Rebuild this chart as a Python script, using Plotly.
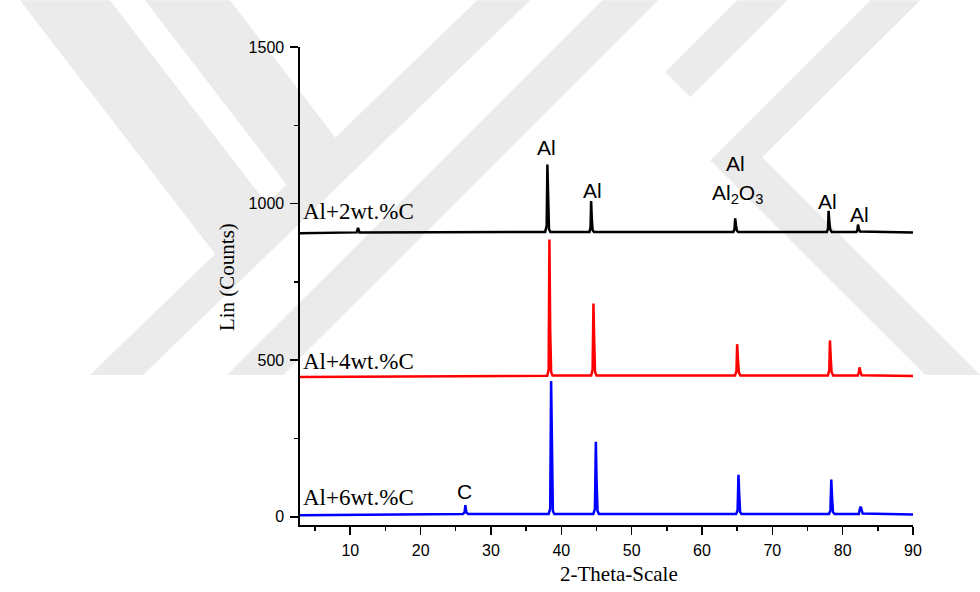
import plotly.graph_objects as go

# ---------------- data ----------------
black_x = [2.85, 10.9, 11.1, 11.3, 37.7, 37.92, 38.02, 38.12, 38.25, 38.45,
           44.0, 44.16, 44.24, 44.34, 44.45, 44.65, 64.45, 64.62, 64.72, 64.84,
           64.95, 65.15, 77.75, 77.92, 78.0, 78.1, 78.22, 78.45, 81.95, 82.1,
           82.18, 82.3, 82.45, 90.0]
black_y = [905, 908, 922, 908, 909, 930, 1125, 960, 918, 909,
           909, 925, 1008, 950, 915, 909, 909, 918, 953, 930,
           914, 909, 909, 920, 977, 945, 918, 909, 909, 916,
           933, 920, 911, 908]

red_x = [2.85, 38.0, 38.2, 38.31, 38.42, 38.55, 38.75, 44.25, 44.45, 44.57,
         44.68, 44.8, 45.0, 64.7, 64.9, 65.0, 65.12, 65.25, 65.45, 77.9,
         78.1, 78.19, 78.3, 78.42, 78.65, 82.15, 82.3, 82.4, 82.52, 82.7, 90.0]
red_y = [446, 450, 470, 885, 600, 462, 451, 451, 470, 681,
         560, 462, 451, 451, 465, 551, 500, 460, 451, 451,
         468, 563, 510, 462, 451, 451, 462, 477, 463, 452, 449]

blue_x = [2.85, 26.0, 26.25, 26.36, 26.5, 26.75, 38.2, 38.42, 38.55, 38.66,
          38.8, 39.0, 44.55, 44.78, 44.91, 45.02, 45.15, 45.35, 64.85, 65.06,
          65.19, 65.3, 65.42, 65.62, 78.05, 78.26, 78.38, 78.5, 78.62, 78.85,
          82.3, 82.45, 82.55, 82.7, 82.85, 90.0]
blue_y = [5, 9, 14, 37, 14, 9, 9, 25, 433, 150,
          18, 9, 9, 25, 239, 110, 18, 9, 9, 20,
          134, 70, 15, 9, 9, 20, 119, 60, 15, 9,
          9, 25, 32, 22, 10, 7]

series_names = ["Al+2wt.%C", "Al+4wt.%C", "Al+6wt.%C"]
series_label_y = [976, 497, 61]

peak_labels = ["Al", "Al", "Al", "Al<sub>2</sub>O<sub>3</sub>", "Al", "Al", "C"]
peak_label_x = [37.9, 44.4, 64.7, 65.0, 77.8, 82.4, 26.3]
peak_label_y = [1178, 1041, 1127, 1031, 1006, 966, 79]

x_ticks = [10, 20, 30, 40, 50, 60, 70, 80, 90]
y_ticks = [0, 500, 1000, 1500]

# ---------------- layout geometry ----------------
W, H = 980, 592
L, R, T, B = 300, 912.7, 46.7, 525.0

def px2paper(px, py):
    return (px - L) / (R - L), (B - py) / (B - T)

# background watermark (light grey chevron bands), pixel polygons
watermark = [
    [(20, 0), (110, 0), (288, 231), (236, 281)],
    [(145, 0), (230, 0), (355, 163), (307, 211)],
    [(90, 375), (143, 375), (530, 0), (477, 0)],
    [(227, 375), (283, 375), (658, 0), (602, 0)],
    [(870, 0), (920, 0), (762, 157), (980, 375), (925, 375), (710, 160)],
    [(737, 0), (787, 0), (690, 97), (665, 72)],
]

shapes = []
for poly in watermark:
    pts = [px2paper(x, y) for x, y in poly]
    path = "M " + " L ".join(f"{a:.4f},{b:.4f}" for a, b in pts) + " Z"
    shapes.append(dict(type="path", xref="paper", yref="paper", path=path,
                       fillcolor="#ebebeb", line=dict(width=0), layer="below"))

fig = go.Figure()
for xs, ys, col in [(black_x, black_y, "#000000"), (red_x, red_y, "#ff0000"),
                    (blue_x, blue_y, "#0000ff")]:
    fig.add_trace(go.Scatter(x=xs, y=ys, mode="lines",
                             line=dict(color=col, width=2.5),
                             showlegend=False, hoverinfo="skip"))

SERIF = "Liberation Serif, Times New Roman, serif"
SANS = "Liberation Sans, Arial, sans-serif"

ann = []
for name, yv in zip(series_names, series_label_y):
    ann.append(dict(x=3.0, y=yv, xref="x", yref="y", text=name, showarrow=False,
                    xanchor="left", yanchor="middle",
                    font=dict(family=SERIF, size=23, color="black")))
for t, xv, yv in zip(peak_labels, peak_label_x, peak_label_y):
    ann.append(dict(x=xv, y=yv, xref="x", yref="y", text=t, showarrow=False,
                    xanchor="center", yanchor="middle",
                    font=dict(family=SANS, size=21, color="black")))
ax_, ay_ = px2paper(227, 277)
ann.append(dict(x=ax_, y=ay_, xref="paper", yref="paper", text="Lin (Counts)",
                textangle=-90, showarrow=False, xanchor="center", yanchor="middle",
                font=dict(family=SERIF, size=21, color="black")))
bx_, by_ = px2paper(618.5, 574)
ann.append(dict(x=bx_, y=by_, xref="paper", yref="paper", text="2-Theta-Scale",
                showarrow=False, xanchor="center", yanchor="middle",
                font=dict(family=SERIF, size=21, color="black")))

fig.update_layout(
    width=W, height=H, autosize=False,
    margin=dict(l=L, r=W - R, t=T, b=H - B, pad=0),
    paper_bgcolor="white", plot_bgcolor="rgba(0,0,0,0)",
    shapes=shapes, annotations=ann,
    xaxis=dict(range=[2.85, 90], tickvals=x_ticks, showgrid=False, zeroline=False,
               showline=True, linecolor="black", linewidth=1.6, mirror=False,
               ticks="outside", ticklen=8, tickwidth=1.6, tickcolor="black",
               minor=dict(dtick=5, tick0=0, ticks="outside", ticklen=4,
                          tickwidth=1.4, tickcolor="black", showgrid=False),
               tickfont=dict(family=SANS, size=16, color="black"),
               ticklabelstandoff=2),
    yaxis=dict(range=[-26.5, 1500], tickvals=y_ticks, showgrid=False, zeroline=False,
               showline=True, linecolor="black", linewidth=1.6, mirror=False,
               ticks="outside", ticklen=8, tickwidth=1.6, tickcolor="black",
               minor=dict(dtick=250, tick0=0, ticks="outside", ticklen=4,
                          tickwidth=1.4, tickcolor="black", showgrid=False),
               tickfont=dict(family=SANS, size=16, color="black"),
               ticklabelstandoff=3),
)

fig.write_html("out.html",
               config={"displayModeBar": False, "staticPlot": True},
               post_script="document.body.style.margin='0px';"
                           "document.body.style.padding='0px';"
                           "document.body.style.overflow='hidden';")
